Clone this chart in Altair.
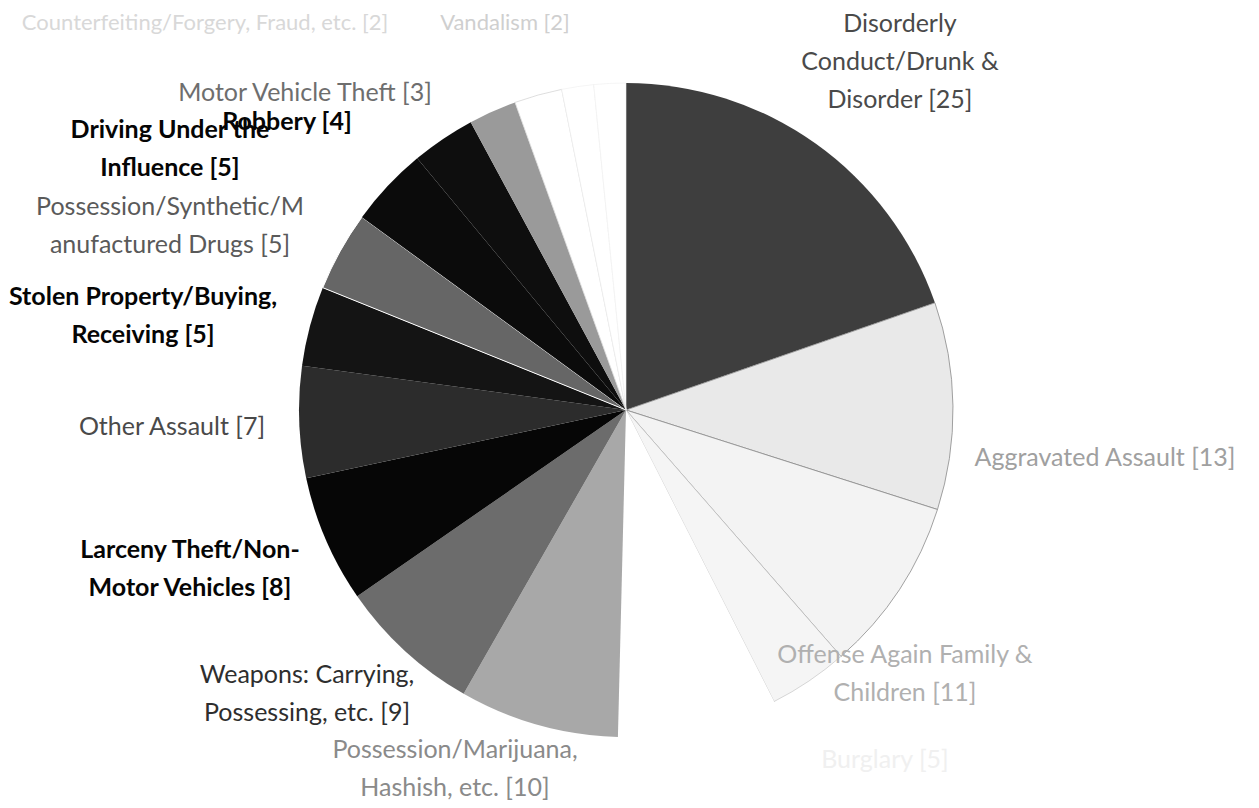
import altair as alt
import pandas as pd
import math

# ---- data (clockwise from 12 o'clock) ----
categories = [
    "Disorderly Conduct/Drunk & Disorder",
    "Aggravated Assault",
    "Offense Again Family & Children",
    "Burglary",
    "(unlabeled)",
    "Possession/Marijuana, Hashish, etc.",
    "Weapons: Carrying, Possessing, etc.",
    "Larceny Theft/Non-Motor Vehicles",
    "Other Assault",
    "Stolen Property/Buying, Receiving",
    "Possession/Synthetic/Manufactured Drugs",
    "Driving Under the Influence",
    "Robbery",
    "Motor Vehicle Theft",
    "(unlabeled top)",
    "Counterfeiting/Forgery, Fraud, etc.",
    "Vandalism",
]
counts = [25, 13, 11, 5, 10, 10, 9, 8, 7, 5, 5, 5, 4, 3, 3, 2, 2]
label_texts = [
    "Disorderly\nConduct/Drunk &\nDisorder [25]",
    "Aggravated Assault [13]",
    "Offense Again Family &\nChildren [11]",
    "Burglary [5]",
    "",
    "Possession/Marijuana,\nHashish, etc. [10]",
    "Weapons: Carrying,\nPossessing, etc. [9]",
    "Larceny Theft/Non-\nMotor Vehicles [8]",
    "Other Assault [7]",
    "Stolen Property/Buying,\nReceiving [5]",
    "Possession/Synthetic/M\nanufactured Drugs [5]",
    "Driving Under the\nInfluence [5]",
    "Robbery [4]",
    "Motor Vehicle Theft [3]",
    "",
    "Counterfeiting/Forgery, Fraud, etc. [2]",
    "Vandalism [2]",
]

# ---- styles ----
fills = ["#3e3e3e", "#e9e9e9", "#f3f3f3", "#f5f5f5", "#ffffff", "#a8a8a8", "#6c6c6c",
         "#060606", "#2c2c2c", "#141414", "#666666", "#0b0b0b", "#0e0e0e", "#9a9a9a",
         "#ffffff", "#ffffff", "#ffffff"]
strokes = ["#3e3e3e", "#8a8a8a", "#8a8a8a", "#bdbdbd", "#ffffff", "#a8a8a8", "#6c6c6c",
           "#060606", "#2c2c2c", "#141414", "#ffffff", "#0b0b0b", "#0e0e0e", "#9a9a9a",
           "#d6d6d6", "#eeeeee", "#eeeeee"]
stroke_w = [0, 0.8, 0.8, 0.6, 0, 0, 0, 0, 0, 0, 1, 0, 0, 0, 0.8, 0.6, 0.6]
text_colors = ["#4a4a4a", "#a0a0a0", "#b0b0b0", "#f0f0f0", "#ffffff", "#8a8a8a", "#2e2e2e",
               "#050505", "#4a4a4a", "#050505", "#5a5a5a", "#050505", "#050505", "#6e6e6e",
               "#ffffff", "#d8d8d8", "#cfcfcf"]
text_weights = ["normal", "normal", "normal", "normal", "normal", "normal", "normal",
                "bold", "normal", "bold", "normal", "bold", "bold", "normal",
                "normal", "normal", "normal"]
text_sizes = [25, 25, 25, 25, 25, 25, 25, 25, 25, 25, 25, 25, 25, 25, 25, 22, 22]
# label anchor points (first line centre, chart pixels; layout only)
label_x = [892, 1097, 897, 877, 0, 447, 299, 182, 164, 135, 162, 162, 279, 297, 0, 197, 497]
label_y = [16, 450, 647, 752, 0, 742, 667, 542, 419, 289, 199, 122, 114, 85, 0, 15, 15]

CX, CY, R = 618, 402, 327

total = sum(counts)
starts, ends = [], []
acc = 0
for c in counts:
    starts.append(acc)
    acc += c
    ends.append(acc)

df = pd.DataFrame({
    "category": categories,
    "count": counts,
    "start": starts,
    "end": ends,
    "fill": fills,
    "stroke": strokes,
    "sw": stroke_w,
})

lab = pd.DataFrame({
    "label": label_texts,
    "lx": label_x,
    "ly": label_y,
    "tc": text_colors,
    "tw": text_weights,
    "ts": text_sizes,
})
lab = lab[lab["label"] != ""]

arcs = alt.Chart(df).mark_arc(outerRadius=R).encode(
    theta=alt.Theta("start:Q", scale=alt.Scale(domain=[0, total], range=[0, 2 * math.pi])),
    theta2="end:Q",
    x=alt.value(CX),
    y=alt.value(CY),
    fill=alt.Fill("fill:N", scale=None),
    stroke=alt.Stroke("stroke:N", scale=None),
    strokeWidth=alt.StrokeWidth("sw:Q", scale=None),
    tooltip=["category:N", "count:Q"],
)

layers = [arcs]
for w in ["normal", "bold"]:
    sub = lab[lab["tw"] == w]
    layers.append(
        alt.Chart(sub).mark_text(
            font="Lato", lineHeight=38, lineBreak="\n",
            align="center", baseline="middle", fontWeight=w,
        ).encode(
            x=alt.X("lx:Q", scale=None),
            y=alt.Y("ly:Q", scale=None),
            text="label:N",
            color=alt.Color("tc:N", scale=None),
            size=alt.Size("ts:Q", scale=None),
        )
    )

chart = alt.layer(*layers).properties(
    width=1240, height=792, autosize=alt.AutoSizeParams(type="none"), padding=0,
).configure_view(strokeOpacity=0)

chart.save("out.html", embed_options={"renderer": "svg", "actions": False})
